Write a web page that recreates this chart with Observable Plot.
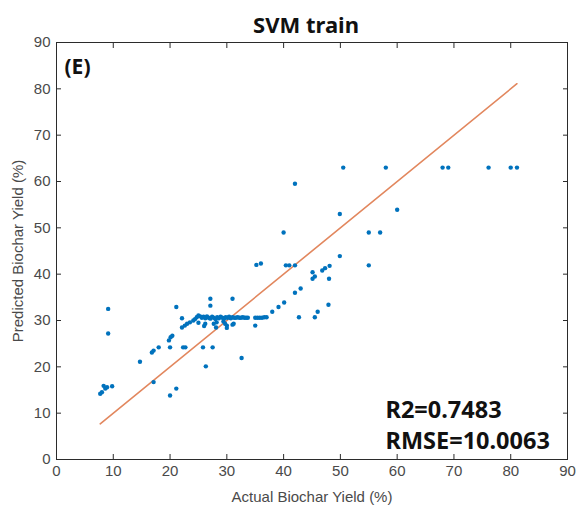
<!DOCTYPE html>
<html>
<head>
<meta charset="utf-8">
<script src="https://cdn.jsdelivr.net/npm/d3@7"></script>
<script src="https://cdn.jsdelivr.net/npm/@observablehq/plot@0.6"></script>
<style>
  html, body { margin: 0; padding: 0; background: #fff; }
</style>
</head>
<body>
<div id="chart"></div>
<script>
// ---- data ----
const title = "SVM train";
const panelLabel = "(E)";
const statR2 = "R2=0.7483";
const statRMSE = "RMSE=10.0063";
const xLabel = "Actual Biochar Yield (%)";
const yLabel = "Predicted Biochar Yield (%)";
const xTicks = [0, 10, 20, 30, 40, 50, 60, 70, 80, 90];
const yTicks = [0, 10, 20, 30, 40, 50, 60, 70, 80, 90];

const actual = [
  9.1, 9.1, 8.3, 8.9, 9.8, 8.6, 8.0, 7.7,
  14.7, 17.1, 16.8, 17.1, 18.0, 20.0, 19.8, 20.1, 20.4, 21.1, 20.0, 21.1, 22.3, 22.7,
  22.1, 22.1, 22.6, 23.0, 23.5, 24.1, 24.4, 24.7, 25.0, 25.3, 25.6, 25.9, 26.2, 26.5,
  26.8, 27.1, 27.4, 27.7, 28.0, 28.3, 28.6, 28.9, 29.2, 29.5, 29.8, 30.1, 30.4, 30.7,
  31.0, 31.3, 31.6, 31.9, 32.2, 32.5, 32.8, 33.1, 33.4, 33.7,
  26.2, 27.7, 28.2, 29.4, 29.7, 31.2, 26.0, 25.0,
  35.0, 35.4, 35.8, 36.2, 36.6, 37.0,
  27.1, 27.1, 31.0, 32.6, 31.0, 30.0, 30.0, 35.0, 28.1, 25.8, 27.5, 26.3,
  38.0, 39.1, 40.1, 42.0, 43.0, 42.7, 45.5, 46.0, 47.9,
  45.1, 45.5, 45.1, 46.8, 47.3, 48.1, 48.0, 49.9, 55.0,
  40.4, 41.0, 42.0, 35.2, 36.0,
  42.0, 40.0, 49.9, 60.0, 55.0, 57.0,
  50.5, 58.0, 68.0, 69.0, 76.1, 80.0, 81.1
];
const predicted = [
  32.5, 27.2, 15.9, 15.6, 15.8, 15.3, 14.5, 14.2,
  21.1, 16.7, 23.1, 23.5, 24.2, 24.2, 25.7, 26.4, 26.7, 15.3, 13.8, 32.9, 24.2, 24.2,
  30.5, 28.5, 28.9, 29.3, 29.6, 30.0, 30.3, 30.7, 31.1, 30.9, 30.6, 30.8, 30.5, 30.9,
  30.6, 30.4, 30.8, 30.6, 30.3, 30.7, 30.5, 30.8, 30.6, 30.4, 30.7, 30.6, 30.8, 30.5,
  30.7, 30.6, 30.6, 30.7, 30.6, 30.6, 30.7, 30.6, 30.6, 30.6,
  29.3, 29.3, 29.6, 29.8, 29.3, 29.3, 28.8, 29.5,
  30.6, 30.6, 30.6, 30.6, 30.7, 30.7,
  34.7, 33.2, 34.7, 21.9, 29.1, 28.4, 28.9, 28.9, 28.5, 24.2, 24.2, 20.1,
  31.9, 32.9, 33.9, 36.0, 36.9, 30.7, 30.7, 31.9, 33.4,
  40.4, 39.5, 39.0, 40.8, 41.3, 41.8, 39.0, 43.9, 41.9,
  41.9, 41.9, 41.9, 42.0, 42.3,
  59.5, 49.0, 53.0, 53.9, 49.0, 49.0,
  63.0, 63.0, 63.0, 63.0, 63.0, 63.0, 63.0
];

// ---- build table for the library ----
const points = actual.map((a, i) => ({actual: a, predicted: predicted[i]}));
const lo = d3.min(actual), hi = d3.max(actual);
const fitLine = [lo, hi].map(v => ({actual: v, predicted: v}));

const textColor = "#4a4a4a";
const boldFont = "'Noto Sans', 'DejaVu Sans', sans-serif";

const chart = Plot.plot({
  width: 579,
  height: 512,
  marginLeft: 56,
  marginRight: 12,
  marginTop: 42,
  marginBottom: 53,
  style: {fontFamily: "'Liberation Sans', Arial, sans-serif", fontSize: "15px", color: textColor, background: "#fff"},
  x: {domain: [0, 90]},
  y: {domain: [0, 90]},
  marks: [
    Plot.frame({stroke: "#2b2b2b", strokeWidth: 1}),
    Plot.axisX(xTicks, {anchor: "bottom", tickSize: -5, tickPadding: 11, fontSize: 15, stroke: "#2b2b2b",
      label: xLabel, labelAnchor: "center", labelArrow: "none", labelOffset: 42}),
    Plot.axisY(yTicks, {anchor: "left", tickSize: -5, tickPadding: 11, fontSize: 15, stroke: "#2b2b2b",
      label: yLabel, labelAnchor: "center", labelArrow: "none", labelOffset: 44}),
    Plot.axisX(xTicks, {anchor: "top", tickSize: -5, tickFormat: () => "", label: null, stroke: "#2b2b2b"}),
    Plot.axisY(yTicks, {anchor: "right", tickSize: -5, tickFormat: () => "", label: null, stroke: "#2b2b2b"}),
    Plot.line(fitLine, {x: "actual", y: "predicted", stroke: "#E2875E", strokeWidth: 1.6}),
    Plot.dot(points, {x: "actual", y: "predicted", r: 2.2, fill: "#0072BD", stroke: null}),
    Plot.text([title], {frameAnchor: "top", lineAnchor: "middle", dy: -17, dx: -6, text: d => d, fontSize: 22, fontWeight: "bold",
      fontFamily: boldFont, fill: "#111"}),
    Plot.text([panelLabel], {frameAnchor: "top-left", lineAnchor: "middle", dx: 8, dy: 25, text: d => d, textAnchor: "start",
      fontSize: 21, fontWeight: "bold", fontFamily: boldFont, fill: "#111"}),
    Plot.text([statR2], {frameAnchor: "bottom-left", lineAnchor: "middle", dx: 329, dy: -49, text: d => d, textAnchor: "start",
      fontSize: 23.5, fontWeight: "bold", fontFamily: boldFont, fill: "#111"}),
    Plot.text([statRMSE], {frameAnchor: "bottom-left", lineAnchor: "middle", dx: 329, dy: -18, text: d => d, textAnchor: "start",
      fontSize: 23.5, fontWeight: "bold", fontFamily: boldFont, fill: "#111"})
  ]
});
document.getElementById("chart").appendChild(chart);
</script>
</body>
</html>
